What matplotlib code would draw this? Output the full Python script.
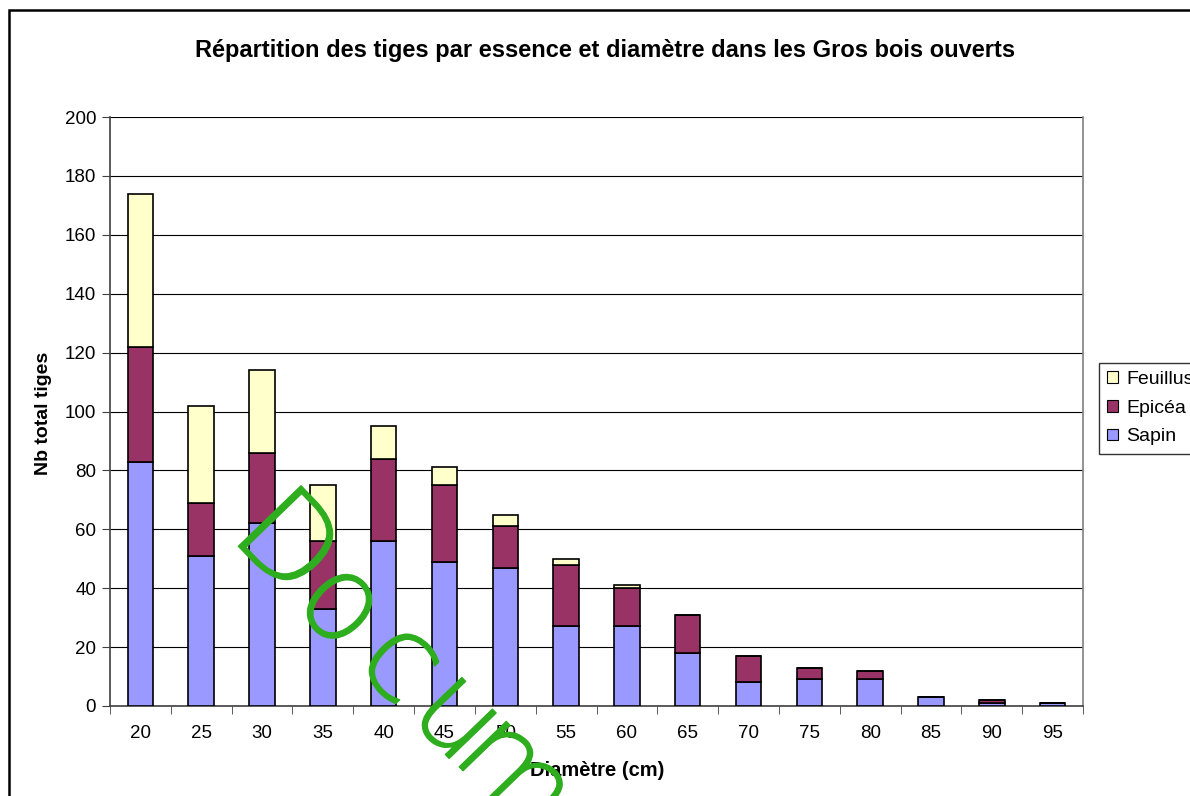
import matplotlib.pyplot as plt
import matplotlib.patheffects as pe
from matplotlib.patches import Rectangle
import numpy as np

plt.rcParams['font.family'] = ['Liberation Sans', 'DejaVu Sans']

# données
diametres = ['20', '25', '30', '35', '40', '45', '50', '55', '60', '65', '70', '75', '80', '85', '90', '95']
sapin = [83, 51, 62, 33, 56, 49, 47, 27, 27, 18, 8, 9, 9, 3, 1, 1]
epicea = [39, 18, 24, 23, 28, 26, 14, 21, 13, 13, 9, 4, 3, 0, 1, 0]
feuillus = [52, 33, 28, 19, 11, 6, 4, 2, 1, 0, 0, 0, 0, 0, 0, 0]

W, H = 1190, 796
fig = plt.figure(figsize=(W / 100, H / 100), dpi=100)
ax = fig.add_axes([110 / W, 1 - 706 / H, (1083 - 110) / W, (706 - 117) / H])

x = np.arange(len(diametres))
bw = 0.42
b1 = ax.bar(x, sapin, bw, color='#9999FF', edgecolor='black', linewidth=1.2, label='Sapin', zorder=3)
bas = np.array(sapin)
b2 = ax.bar(x, epicea, bw, bottom=bas, color='#993366', edgecolor='black', linewidth=1.2, label='Epicéa', zorder=3)
bas = bas + np.array(epicea)
b3 = ax.bar(x, feuillus, bw, bottom=bas, color='#FFFFCC', edgecolor='black', linewidth=1.2, label='Feuillus', zorder=3)

ax.set_xlim(-0.5, len(diametres) - 0.5)
ax.set_ylim(0, 200)
ax.set_yticks(range(0, 201, 20))
ax.set_xticks(x)
ax.set_xticklabels(diametres)
ax.set_xticks(np.arange(-0.5, len(diametres)), minor=True)
ax.tick_params(axis='x', which='major', length=0, pad=14, labelsize=13.5)
ax.tick_params(axis='x', which='minor', length=6, direction='out', color='#404040')
ax.tick_params(axis='y', length=6, direction='out', color='#404040', labelsize=13.5, pad=4)
ax.yaxis.grid(True, color='black', linewidth=0.8, zorder=0)

for s in ['left', 'bottom']:
    ax.spines[s].set_color('#404040')
    ax.spines[s].set_linewidth(1.2)
ax.spines['right'].set_color('#808080')
ax.spines['right'].set_linewidth(1.2)
ax.spines['top'].set_visible(False)

fig.text(605 / W, 1 - 50 / H, 'Répartition des tiges par essence et diamètre dans les Gros bois ouverts',
         ha='center', va='center', fontsize=17, fontweight='bold')
fig.text(43 / W, 1 - 413 / H, 'Nb total tiges', rotation=90, ha='center', va='center',
         fontsize=14, fontweight='bold')
fig.text(597 / W, 1 - 770 / H, 'Diamètre (cm)', ha='center', va='center',
         fontsize=14.5, fontweight='bold')

leg = fig.legend(handles=[b3, b2, b1], labels=['Feuillus', 'Epicéa', 'Sapin'],
                 loc='upper left', bbox_to_anchor=(1099 / W, 1 - 363 / H),
                 fontsize=14, fancybox=False, frameon=True, edgecolor='black',
                 handlelength=0.55, handleheight=0.55, handletextpad=0.45,
                 labelspacing=0.6, borderpad=0.42, borderaxespad=0)
leg.get_frame().set_linewidth(1.0)
for h in leg.legend_handles:
    h.set_linewidth(0.8)

# cadre extérieur
fig.patches.append(Rectangle((9 / W, -0.1), 1.2, (H - 10) / H + 0.1, fill=False,
                             edgecolor='black', linewidth=1.8, transform=fig.transFigure))

# filigrane
lettres = ['D', 'o', 'c', 'u', 'm']
pos = [(284, 546), (340, 606), (400, 664), (456, 718), (514, 776)]
for l, (px, py) in zip(lettres, pos):
    fig.text(px / W, 1 - py / H, l, rotation=-46, ha='center', va='center',
             fontsize=86, color='#2EAE1E', family='DejaVu Sans', fontweight=200, zorder=10,
             path_effects=[pe.withStroke(linewidth=1.0, foreground='#2EAE1E')])

fig.savefig('out.png', dpi=100)
